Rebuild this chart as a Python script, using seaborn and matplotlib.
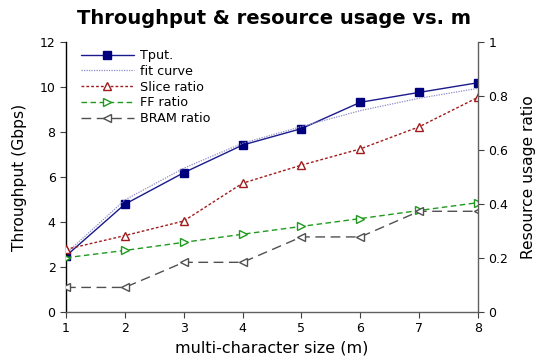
import matplotlib
matplotlib.use("Agg")
import matplotlib.pyplot as plt
import seaborn as sns
import numpy as np

m = [1, 2, 3, 4, 5, 6, 7, 8]
tput = [2.49, 4.79, 6.19, 7.42, 8.15, 9.32, 9.76, 10.19]
fit_curve = [2.60, 4.98, 6.39, 7.50, 8.24, 8.95, 9.50, 9.94]
slice_ratio = [0.232, 0.283, 0.337, 0.477, 0.544, 0.604, 0.686, 0.795]
ff_ratio = [0.201, 0.228, 0.258, 0.288, 0.317, 0.346, 0.376, 0.405]
bram_ratio = [0.091, 0.091, 0.184, 0.184, 0.278, 0.278, 0.373, 0.373]

sns.set_style("ticks")
plt.rcParams['font.family'] = ['DejaVu Sans']
plt.rcParams['text.color'] = 'black'
plt.rcParams['axes.labelcolor'] = 'black'
plt.rcParams['xtick.color'] = 'black'
plt.rcParams['ytick.color'] = 'black'

fig = plt.figure(figsize=(5.38, 3.64), dpi=100)
ax = fig.add_axes([66/538, 1-312/364, (478-66)/538, (312-42)/364])
ax2 = ax.twinx()

navy = "#00007f"
sns.lineplot(x=m, y=tput, ax=ax, color="#1a1a8c", lw=1.0, marker="s", markersize=5.5,
             markeredgewidth=1.0, markerfacecolor=navy, markeredgecolor=navy,
             label="Tput.", legend=False)
sns.lineplot(x=m, y=fit_curve, ax=ax, color="#8c8cc8", lw=0.9, linestyle=(0, (1, 1)),
             label="fit curve", legend=False)
sns.lineplot(x=m, y=slice_ratio, ax=ax2, color="#a01c1c", lw=1.0, linestyle=(0, (2, 1.5)),
             marker="^", markersize=6, markeredgewidth=1.0, markerfacecolor="white",
             markeredgecolor="#a01c1c", label="Slice ratio", legend=False)
sns.lineplot(x=m, y=ff_ratio, ax=ax2, color="#1f9a1f", lw=1.0, linestyle=(0, (4, 2.5)),
             marker=">", markersize=6, markeredgewidth=1.0, markerfacecolor="white",
             markeredgecolor="#1f9a1f", label="FF ratio", legend=False)
sns.lineplot(x=m, y=bram_ratio, ax=ax2, color="#505050", lw=1.0, linestyle=(0, (7, 4)),
             marker="<", markersize=6, markeredgewidth=1.0, markerfacecolor="white",
             markeredgecolor="#505050", label="BRAM ratio", legend=False)

ax.set_xlim(1, 8)
ax.set_ylim(0, 12)
ax2.set_ylim(0, 1)
ax.set_xticks(m)
ax.set_yticks([0, 2, 4, 6, 8, 10, 12])
ax2.set_yticks([0, 0.2, 0.4, 0.6, 0.8, 1])
ax2.set_yticklabels(["0", "0.2", "0.4", "0.6", "0.8", "1"])

for a in (ax, ax2):
    a.spines['top'].set_visible(False)
ax.spines['left'].set_color("black")
ax.spines['bottom'].set_color("#606060")
ax2.spines['right'].set_color("#606060")
ax2.spines['left'].set_visible(False)
ax2.spines['bottom'].set_visible(False)
ax.spines['right'].set_visible(False)
for s in ['left', 'bottom']:
    ax.spines[s].set_linewidth(1.0)
ax2.spines['right'].set_linewidth(1.0)

ax.tick_params(axis='both', direction='out', length=4, labelsize=9, color="#404040")
ax2.tick_params(axis='y', direction='out', length=4, labelsize=9, color="#404040")

ax.set_xlabel("multi-character size (m)", fontsize=11.5, labelpad=4)
ax.set_ylabel("Throughput (Gbps)", fontsize=11.2, labelpad=9)
ax2.set_ylabel("Resource usage ratio", fontsize=11.2, labelpad=9)
fig.suptitle("Throughput & resource usage vs. m", fontsize=14, fontweight='bold',
             x=0.509, y=0.975)

h1, l1 = ax.get_legend_handles_labels()
h2, l2 = ax2.get_legend_handles_labels()
leg = ax2.legend(h1 + h2, l1 + l2, loc="upper left", frameon=False, fontsize=9.2,
                 handlelength=4.1, handletextpad=0.5, labelspacing=0.22,
                 borderaxespad=0.15, bbox_to_anchor=(0.02, 1.0))

fig.savefig("out.png", dpi=100)
